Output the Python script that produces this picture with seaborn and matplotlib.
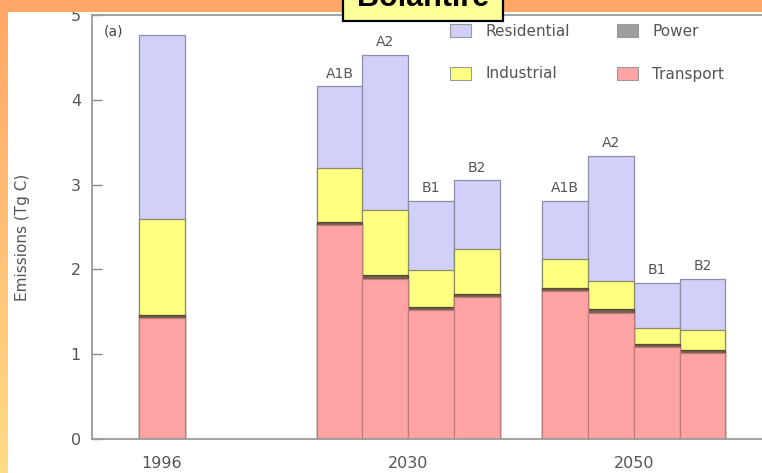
import numpy as np
import pandas as pd
import matplotlib
matplotlib.use("Agg")
import matplotlib.pyplot as plt
from matplotlib.patches import Rectangle, Patch
from matplotlib.colors import LinearSegmentedColormap
import seaborn as sns

# ---- data -------------------------------------------------------------
year_labels = ["1996", "2030", "2050"]
bar_year = ["1996", "2030", "2030", "2030", "2030", "2050", "2050", "2050", "2050"]
scenarios = ["", "A1B", "A2", "B1", "B2", "A1B", "A2", "B1", "B2"]
transport = [1.43, 2.52, 1.89, 1.52, 1.67, 1.74, 1.49, 1.09, 1.02]
power = [0.03, 0.04, 0.04, 0.04, 0.04, 0.04, 0.04, 0.03, 0.03]
industrial = [1.14, 0.63, 0.77, 0.43, 0.53, 0.34, 0.33, 0.19, 0.24]
residential = [2.17, 0.97, 1.83, 0.82, 0.81, 0.69, 1.48, 0.53, 0.60]
sectors = ["Residential", "Industrial", "Power", "Transport"]

# ---- layout: bars of one year sit side by side, years are spread apart --
group_start = {"1996": 0.0, "2030": 3.88, "2050": 8.81}
pos = []
seen = {}
for y in bar_year:
    k = seen.get(y, 0)
    pos.append(group_start[y] + k)
    seen[y] = k + 1
pos = np.array(pos)
group_centre = [np.mean(pos[np.array(bar_year) == y]) for y in year_labels]

df = pd.DataFrame({
    "pos": pos, "year": bar_year, "scenario": scenarios,
    "Transport": transport, "Power": power,
    "Industrial": industrial, "Residential": residential,
})
df["top_transport"] = df["Transport"]
df["top_power"] = df["top_transport"] + df["Power"]
df["top_industrial"] = df["top_power"] + df["Industrial"]
df["top_residential"] = df["top_industrial"] + df["Residential"]

fill = {"Residential": "#d0d0f8", "Industrial": "#ffff80",
        "Power": "#6e5f4c", "Transport": "#ffa4a4"}
edge = {"Residential": "#8e8ea8", "Industrial": "#8c8c66",
        "Power": "#5a4834", "Transport": "#c07a7a"}
swatch = {"Residential": "#d0d0f8", "Industrial": "#ffff80",
          "Power": "#9e9e9e", "Transport": "#ffa4a4"}

sns.set_theme(style="white")
plt.rcParams["font.family"] = ["DejaVu Sans"]

W, H = 762, 473
fig = plt.figure(figsize=(W / 100, H / 100), dpi=100)
fig.patch.set_facecolor("white")

# plot region in pixels: x from 92 to beyond right edge, y=0 at 439, y=5 at 15
px_per_unit = 45.8
ax_left, ax_right = 92, 775
ax = fig.add_axes([ax_left / W, (H - 439) / H, (ax_right - ax_left) / W, (439 - 15) / H])
ax.set_facecolor("white")

# stacked bars: draw cumulative totals from the top layer down
for name, col in [("Residential", "top_residential"), ("Industrial", "top_industrial"),
                  ("Power", "top_power"), ("Transport", "top_transport")]:
    sns.barplot(data=df, x="pos", y=col, native_scale=True, width=1.0,
                color=fill[name], saturation=1, edgecolor=edge[name],
                linewidth=0.9, errorbar=None, ax=ax)

x0 = -(161.7 - ax_left) / px_per_unit
ax.set_xlim(x0, x0 + (ax_right - ax_left) / px_per_unit)
ax.set_ylim(0, 5)
ax.set_xticks(group_centre)
ax.set_xticklabels(year_labels)
ax.set_yticks([0, 1, 2, 3, 4, 5])
ax.set_xlabel("")
ax.set_ylabel("Emissions (Tg C)", fontsize=11, color="#555555")
ax.yaxis.label.set_va("center")
ax.yaxis.set_label_coords((23 - ax_left) / (ax_right - ax_left), (439 - 237) / 424)

for s in ["left", "bottom", "top"]:
    ax.spines[s].set_visible(True)
    ax.spines[s].set_color("#9a9a9a")
    ax.spines[s].set_linewidth(1.3)
ax.spines["right"].set_visible(False)

ax.tick_params(axis="y", direction="in", length=7, width=1, color="#8a8a8a",
               pad=8, labelsize=11.5, labelcolor="#555555", left=True)
ax.tick_params(axis="x", length=0, pad=12, labelsize=11.5, labelcolor="#555555")

# scenario names above bars
for p, tot, s in zip(df["pos"], df["top_residential"], df["scenario"]):
    if s:
        ax.annotate(s, (p, tot), xytext=(0, 4), textcoords="offset points",
                    ha="center", va="bottom", fontsize=10, color="#555555")

ax.text((104 - ax_left) / (ax_right - ax_left), (439 - 32) / 424, "(a)",
        transform=ax.transAxes, ha="left", va="center", fontsize=10, color="#444444")

# legend
order = ["Residential", "Industrial", "Power", "Transport"]
handles = [Patch(facecolor=swatch[n], edgecolor="#9a9a9a", linewidth=0.8) for n in order]
fig.legend(handles, order, ncol=2, loc="upper left",
           bbox_to_anchor=(450 / W, 1 - 24 / H), frameon=False, fontsize=11,
           labelcolor="#555555", handlelength=1.4, handleheight=0.9,
           handletextpad=0.9, labelspacing=1.8, columnspacing=3.1,
           borderpad=0, borderaxespad=0)

# slide frame: orange strip on top, gradient strip on the left
fig.patches.append(Rectangle((0, 1 - 12.5 / H), 1, 12.5 / H, transform=fig.transFigure,
                             facecolor="#ffa766", edgecolor="none", zorder=1))
gax = fig.add_axes([0, 0, 8 / W, 1 - 12.5 / H])
grad = np.linspace(0, 1, 256).reshape(-1, 1)
cmap = LinearSegmentedColormap.from_list("strip", ["#ffa766", "#ffdb88"])
gax.imshow(grad, aspect="auto", cmap=cmap)
gax.axis("off")

# title box, running off the top of the slide
fig.patches.append(Rectangle((343 / W, 1 - 21 / H), 160 / W, 40 / H, transform=fig.transFigure,
                             facecolor="#ffff99", edgecolor="black", linewidth=1.6, zorder=5))
fig.text(423 / W, 1 - 6 / H, "Bolantire", ha="center", va="baseline", fontsize=22,
         fontweight="bold", family=["Liberation Sans"], color="black", zorder=6)

fig.savefig("out.png", dpi=100)
